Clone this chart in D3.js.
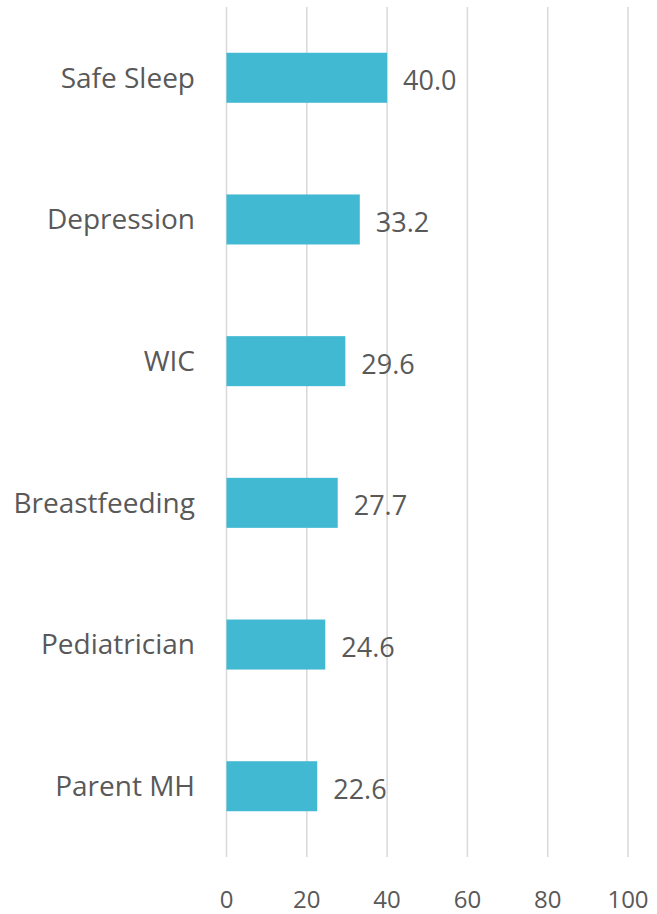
<!DOCTYPE html>
<html>
<head>
<meta charset="utf-8">
<script src="https://cdn.jsdelivr.net/npm/d3@7"></script>
<style>
  body { margin: 0; background: #fff; }
  svg text { font-family: "Open Sans", "Noto Sans", sans-serif; fill: #595959; }
</style>
</head>
<body>
<div id="chart"></div>
<script>
const categories = ['Safe Sleep', 'Depression', 'WIC', 'Breastfeeding', 'Pediatrician', 'Parent MH'];
const values = [40.0, 33.2, 29.6, 27.7, 24.6, 22.6];
const ticks = [0, 20, 40, 60, 80, 100];

const width = 657,
  height = 914,
  margin = { top: 7, right: 29, bottom: 57, left: 226.5 };

const svg = d3.select('div#chart').append('svg')
  .attr('width', width)
  .attr('height', height);

const x = d3.scaleLinear()
  .domain([0, 100])
  .range([margin.left, width - margin.right]);

const y = d3.scaleBand()
  .domain(categories)
  .range([margin.top, height - margin.bottom])
  .paddingInner(0.647)
  .paddingOuter(0.323);

// gridlines
svg.append('g')
  .selectAll('line')
  .data(ticks)
  .join('line')
  .attr('x1', d => x(d))
  .attr('x2', d => x(d))
  .attr('y1', margin.top)
  .attr('y2', height - margin.bottom)
  .attr('stroke', '#d9d9d9')
  .attr('stroke-width', 1.5);

// tick labels
svg.append('g')
  .selectAll('text')
  .data(ticks)
  .join('text')
  .attr('x', d => x(d))
  .attr('y', 908)
  .attr('text-anchor', 'middle')
  .style('font-size', '24px')
  .text(d => d);

// bars
svg.append('g')
  .selectAll('rect')
  .data(values)
  .join('rect')
  .attr('x', x(0))
  .attr('y', (d, i) => y(categories[i]))
  .attr('width', d => x(d) - x(0))
  .attr('height', y.bandwidth())
  .attr('fill', '#41b9d3');

// value labels
svg.append('g')
  .selectAll('text')
  .data(values)
  .join('text')
  .attr('x', d => x(d) + 16)
  .attr('y', (d, i) => y(categories[i]) + y.bandwidth() / 2 + 3)
  .attr('dy', '0.35em')
  .style('font-size', '27px')
  .text(d => d.toFixed(1));

// category labels
svg.append('g')
  .selectAll('text')
  .data(categories)
  .join('text')
  .attr('x', 195)
  .attr('y', d => y(d) + y.bandwidth() / 2)
  .attr('dy', '0.35em')
  .attr('text-anchor', 'end')
  .style('font-size', '28px')
  .text(d => d);
</script>
</body>
</html>
